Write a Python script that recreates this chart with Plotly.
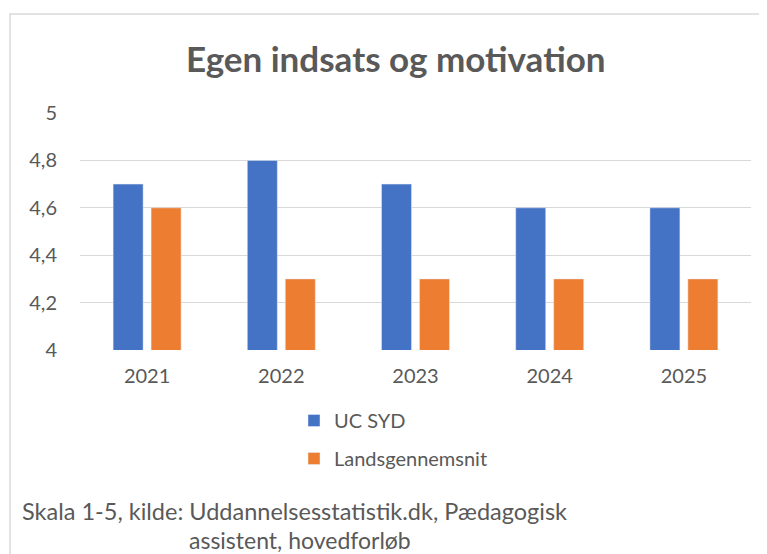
import plotly.graph_objects as go

years = ["2021", "2022", "2023", "2024", "2025"]
uc_syd = [4.7, 4.8, 4.7, 4.6, 4.6]
lands = [4.6, 4.3, 4.3, 4.3, 4.3]
series_names = ["UC SYD", "Landsgennemsnit"]
title_text = "Egen indsats og motivation"
caption_lines = ["Skala 1-5, kilde: Uddannelsesstatistik.dk, Pædagogisk", "assistent, hovedforløb"]
y_ticks = [4, 4.2, 4.4, 4.6, 4.8, 5]
y_ticklabels = ["4", "4,2", "4,4", "4,6", "4,8", "5"]

OFF = 8  # page body margin
W, H = 767 - OFF, 554 - OFF
# plot area in screen pixels: x 80..751, y 113..350
L = 80 - OFF
R = W - (751 - OFF)
T = 113 - OFF
B = H - (350 - OFF)
pw, ph = W - L - R, H - T - B

def px_x(p):  # screen px -> paper
    return (p - OFF - L) / pw

def px_y(p):
    return (H - B - (p - OFF)) / ph

FONT = "Lato"
GRAY = "#595959"

fig = go.Figure()
fig.add_trace(go.Bar(x=years, y=uc_syd, name=series_names[0], marker_color="#4472C4",
                     legendgroup="a"))
fig.add_trace(go.Bar(x=years, y=lands, name=series_names[1], marker_color="#ED7D31",
                     legendgroup="b"))

fig.update_layout(
    width=W, height=H,
    margin=dict(l=L, r=R, t=T, b=B),
    paper_bgcolor="white", plot_bgcolor="white",
    font=dict(family=FONT, color=GRAY, size=20),
    barmode="group", bargap=0.434, bargroupgap=0.21,
    showlegend=True,
    legend=dict(orientation="v", x=px_x(294), y=px_y(401), xanchor="left", yanchor="top",
                font=dict(size=20, color=GRAY), tracegroupgap=9, bgcolor="rgba(0,0,0,0)"),
    xaxis=dict(showgrid=False, showline=False, ticks="", tickfont=dict(size=20, color=GRAY),
               ticklabelstandoff=12),
    yaxis=dict(range=[4, 5], tickvals=y_ticks, ticktext=y_ticklabels, showgrid=True,
               gridcolor="#D9D9D9", gridwidth=1.3, zeroline=False, showline=False, ticks="",
               tickfont=dict(size=20, color=GRAY), ticklabelstandoff=22),
    annotations=[
        dict(text="<b>" + title_text + "</b>", x=px_x(396), y=px_y(58), xref="paper", yref="paper",
             xanchor="center", yanchor="middle", showarrow=False,
             font=dict(size=35, color=GRAY, family=FONT)),
        dict(text=caption_lines[0], x=px_x(20), y=px_y(511), xref="paper", yref="paper",
             xanchor="left", yanchor="middle", showarrow=False,
             font=dict(size=23.5, color=GRAY, family=FONT)),
        dict(text=caption_lines[1], x=px_x(300), y=px_y(540), xref="paper", yref="paper",
             xanchor="center", yanchor="middle", showarrow=False,
             font=dict(size=23, color=GRAY, family=FONT)),
    ],
    shapes=[
        dict(type="rect", xref="paper", yref="paper", x0=px_x(10), x1=px_x(820),
             y0=px_y(620), y1=px_y(14), line=dict(color="#D9D9D9", width=1.5),
             fillcolor="rgba(0,0,0,0)", layer="below"),
    ],
)

fig.write_html("out.html")
